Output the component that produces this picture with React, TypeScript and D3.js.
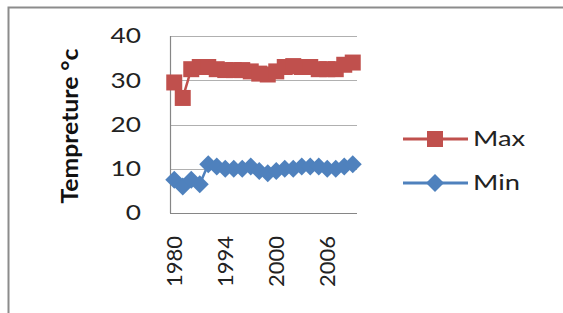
import { useEffect, useRef } from "react";
import * as d3 from "d3";

const years = [
  "1980", "1989", "1990", "1991", "1992", "1993", "1994", "1995", "1996", "1997", "1998",
  "1999", "2000", "2001", "2002", "2003", "2004", "2005", "2006", "2007", "2008", "2009",
];
const maxTemp = [
  29.5, 26, 32.5, 33, 33, 32.5, 32.3, 32.3, 32.3, 32, 31.5,
  31.3, 32, 33, 33.2, 33, 33, 32.5, 32.5, 32.5, 33.5, 34,
];
const minTemp = [
  7.5, 6, 7.5, 6.5, 11, 10.5, 10, 10, 10, 10.5, 9.5,
  9, 9.5, 10, 10, 10.5, 10.5, 10.5, 10, 10, 10.5, 11,
];
const yTicks = [0, 10, 20, 30, 40];
const xTickLabels = ["1980", "1994", "2000", "2006"];

const series = [
  { name: "Max", values: maxTemp, color: "#C0504D", marker: "square" },
  { name: "Min", values: minTemp, color: "#4F81BD", marker: "diamond" },
];

const font = "Lato, 'Open Sans', sans-serif";

export default function App() {
  const ref = useRef<SVGSVGElement>(null);

  useEffect(() => {
    const svg = d3.select(ref.current);
    svg.selectAll("*").remove();

    const width = 563;
    const height = 313;
    const plot = { left: 170, right: 357, top: 36, bottom: 213 };

    svg.append("rect").attr("width", width).attr("height", height).attr("fill", "#fff");

    // chart border (only top and left visible in the crop)
    svg
      .append("path")
      .attr("d", `M8.5,${height}V7.5H${width}`)
      .attr("fill", "none")
      .attr("stroke", "#8c8c8c")
      .attr("stroke-width", 2);

    const x = d3.scaleBand().domain(years).range([plot.left, plot.right]).padding(0);
    const cx = (d: string) => (x(d) ?? 0) + x.bandwidth() / 2;
    const y = d3.scaleLinear().domain([0, 40]).range([plot.bottom, plot.top]);

    // gridlines
    svg
      .append("g")
      .selectAll("line")
      .data(yTicks)
      .enter()
      .append("line")
      .attr("x1", plot.left)
      .attr("x2", plot.right)
      .attr("y1", (d) => Math.round(y(d)) + 0.5)
      .attr("y2", (d) => Math.round(y(d)) + 0.5)
      .attr("stroke", (d) => (d === 0 ? "#868686" : "#b0b0b0"))
      .attr("stroke-width", 1.2);

    svg
      .append("line")
      .attr("x1", plot.left + 0.5)
      .attr("x2", plot.left + 0.5)
      .attr("y1", plot.top)
      .attr("y2", plot.bottom)
      .attr("stroke", "#868686")
      .attr("stroke-width", 1.2);

    // y labels (slightly widened like the source image)
    svg
      .append("g")
      .selectAll("text")
      .data(yTicks)
      .enter()
      .append("text")
      .attr("transform", (d) => `translate(141,${y(d)}) scale(1.25,1)`)
      .attr("dy", "0.35em")
      .attr("text-anchor", "end")
      .attr("font-family", font)
      .attr("font-size", 21)
      .attr("fill", "#222")
      .text((d) => d);

    // x labels
    svg
      .append("g")
      .selectAll("text")
      .data(xTickLabels)
      .enter()
      .append("text")
      .attr("transform", (d) => `translate(${cx(d)},236) rotate(-90)`)
      .attr("dy", "0.35em")
      .attr("text-anchor", "end")
      .attr("font-family", font)
      .attr("font-size", 22)
      .attr("fill", "#222")
      .text((d) => d);

    // y axis title
    svg
      .append("text")
      .attr("transform", `translate(70,126) rotate(-90)`)
      .attr("dy", "0.35em")
      .attr("text-anchor", "middle")
      .attr("font-family", font)
      .attr("font-size", 23)
      .attr("font-weight", "bold")
      .attr("fill", "#111")
      .attr("textLength", 155)
      .attr("lengthAdjust", "spacingAndGlyphs")
      .text("Tempreture °c");

    const markerPath = (kind: string) =>
      kind === "square" ? "M-8,-8H8V8H-8Z" : "M0,-9L9,0L0,9L-9,0Z";

    const line = d3
      .line<number>()
      .x((_, i) => cx(years[i]))
      .y((d) => y(d));

    series.forEach((s) => {
      const g = svg.append("g");
      g.append("path")
        .attr("d", line(s.values))
        .attr("fill", "none")
        .attr("stroke", s.color)
        .attr("stroke-width", 2.5);
      g.selectAll("path.m")
        .data(s.values)
        .enter()
        .append("path")
        .attr("class", "m")
        .attr("transform", (d, i) => `translate(${cx(years[i])},${y(d)})`)
        .attr("d", markerPath(s.marker))
        .attr("fill", s.color);
    });

    // legend
    const legendY = [139, 183];
    series.forEach((s, i) => {
      const g = svg.append("g").attr("transform", `translate(0,${legendY[i]})`);
      g.append("line")
        .attr("x1", 403)
        .attr("x2", 468)
        .attr("stroke", s.color)
        .attr("stroke-width", 3);
      g.append("path")
        .attr("transform", "translate(435,0)")
        .attr("d", markerPath(s.marker))
        .attr("fill", s.color);
      g.append("text")
        .attr("transform", "translate(473,0) scale(1.3,1)")
        .attr("dy", "0.35em")
        .attr("font-family", font)
        .attr("font-size", 21)
        .attr("fill", "#222")
        .text(s.name);
    });
  }, []);

  return (
    <svg
      ref={ref}
      width={563}
      height={313}
      style={{ position: "absolute", left: 0, top: 0, display: "block" }}
    />
  );
}
